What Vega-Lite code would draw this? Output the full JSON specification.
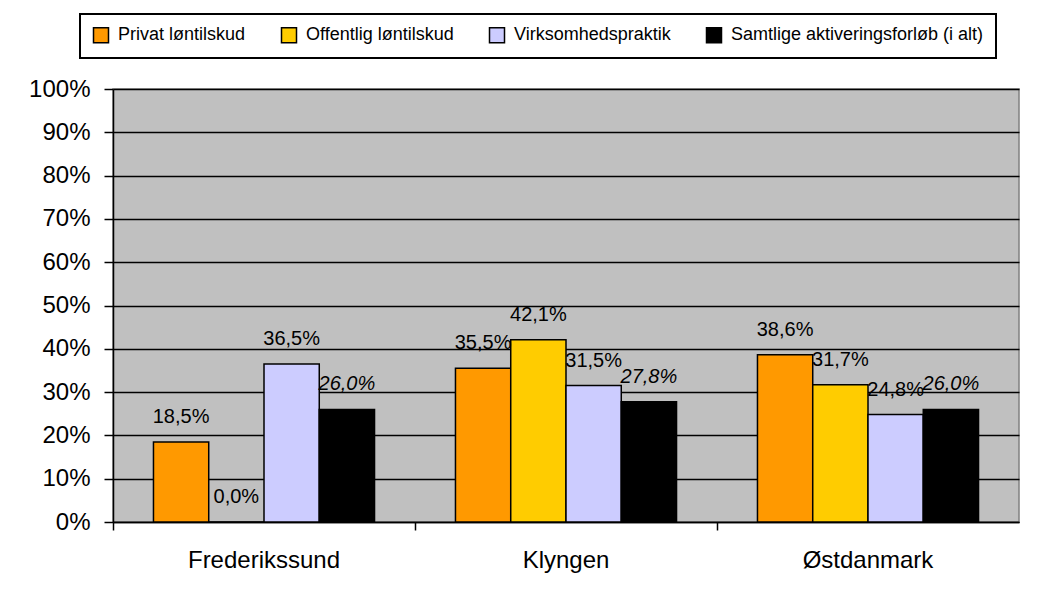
{
  "$schema": "https://vega.github.io/schema/vega-lite/v6.json",
  "width": 906,
  "height": 433,
  "autosize": {"type": "none"},
  "padding": {"left": 113, "top": 89, "right": 33, "bottom": 79},
  "background": "white",
  "data": {
    "values": [
      {"omraade": "Frederikssund", "serie": "Privat løntilskud", "andel": 0.185},
      {"omraade": "Frederikssund", "serie": "Offentlig løntilskud", "andel": 0.0},
      {"omraade": "Frederikssund", "serie": "Virksomhedspraktik", "andel": 0.365},
      {"omraade": "Frederikssund", "serie": "Samtlige aktiveringsforløb (i alt)", "andel": 0.26},
      {"omraade": "Klyngen", "serie": "Privat løntilskud", "andel": 0.355},
      {"omraade": "Klyngen", "serie": "Offentlig løntilskud", "andel": 0.421},
      {"omraade": "Klyngen", "serie": "Virksomhedspraktik", "andel": 0.315},
      {"omraade": "Klyngen", "serie": "Samtlige aktiveringsforløb (i alt)", "andel": 0.278},
      {"omraade": "Østdanmark", "serie": "Privat løntilskud", "andel": 0.386},
      {"omraade": "Østdanmark", "serie": "Offentlig løntilskud", "andel": 0.317},
      {"omraade": "Østdanmark", "serie": "Virksomhedspraktik", "andel": 0.248},
      {"omraade": "Østdanmark", "serie": "Samtlige aktiveringsforløb (i alt)", "andel": 0.26}
    ]
  },
  "encoding": {
    "x": {
      "field": "omraade",
      "type": "nominal",
      "sort": ["Frederikssund", "Klyngen", "Østdanmark"],
      "scale": {"paddingInner": 0.268, "paddingOuter": 0.134},
      "axis": {
        "title": null,
        "labelAngle": 0,
        "bandPosition": -0.181,
        "labelFontSize": 24,
        "labelFont": "Liberation Sans",
        "labelColor": "black",
        "labelPadding": 18,
        "tickSize": 8,
        "tickColor": "black",
        "tickWidth": 1.5,
        "domainColor": "black",
        "domainWidth": 1.5,
        "grid": false
      }
    },
    "xOffset": {
      "field": "serie",
      "type": "nominal",
      "sort": ["Privat løntilskud", "Offentlig løntilskud", "Virksomhedspraktik", "Samtlige aktiveringsforløb (i alt)"],
      "scale": {"paddingInner": 0, "paddingOuter": 0}
    },
    "y": {
      "field": "andel",
      "type": "quantitative",
      "scale": {"domain": [0, 1], "nice": false},
      "axis": {
        "title": null,
        "format": ".0%",
        "values": [0, 0.1, 0.2, 0.3, 0.4, 0.5, 0.6, 0.7, 0.8, 0.9, 1],
        "labelFontSize": 24,
        "labelFont": "Liberation Sans",
        "labelColor": "black",
        "labelPadding": 14,
        "tickSize": 9,
        "tickColor": "black",
        "tickWidth": 1.5,
        "domainColor": "black",
        "domainWidth": 1.5,
        "grid": true,
        "gridColor": "black",
        "gridWidth": 1.5,
        "gridOpacity": 1
      }
    }
  },
  "layer": [
    {
      "mark": {"type": "bar", "stroke": "black", "strokeWidth": 1.5},
      "encoding": {
        "color": {
          "field": "serie",
          "type": "nominal",
          "sort": ["Privat løntilskud", "Offentlig løntilskud", "Virksomhedspraktik", "Samtlige aktiveringsforløb (i alt)"],
          "scale": {
            "domain": ["Privat løntilskud", "Offentlig løntilskud", "Virksomhedspraktik", "Samtlige aktiveringsforløb (i alt)"],
            "range": ["#FF9900", "#FFCC00", "#CCCCFF", "#000000"]
          },
          "legend": {
            "title": null,
            "orient": "none",
            "direction": "horizontal",
            "legendX": -33,
            "legendY": -75,
            "symbolType": "square",
            "symbolSize": 225,
            "symbolStrokeColor": "black",
            "symbolStrokeWidth": 1.5,
            "symbolOpacity": 1,
            "labelFont": "Liberation Sans",
            "labelFontSize": 18,
            "labelColor": "black",
            "labelOffset": 8,
            "labelLimit": 400,
            "columnPadding": 32,
            "padding": 12,
            "strokeColor": "black",
            "fillColor": "white",
            "encode": {"legend": {"update": {"strokeWidth": {"value": 2}}}}
          }
        }
      }
    },
    {
      "transform": [{"filter": "datum.serie !== 'Samtlige aktiveringsforløb (i alt)'"}],
      "mark": {"type": "text", "font": "Liberation Sans", "fontSize": 20, "color": "black", "baseline": "middle", "dy": -25},
      "encoding": {
        "text": {"field": "andel", "type": "quantitative", "format": ".1%"}
      }
    },
    {
      "transform": [{"filter": "datum.serie === 'Samtlige aktiveringsforløb (i alt)'"}],
      "mark": {"type": "text", "font": "Liberation Sans", "fontSize": 20, "fontStyle": "italic", "color": "black", "baseline": "middle", "dy": -25},
      "encoding": {
        "text": {"field": "andel", "type": "quantitative", "format": ".1%"}
      }
    }
  ],
  "config": {
    "locale": {
      "number": {"decimal": ",", "thousands": ".", "grouping": [3], "currency": ["", " kr."]}
    },
    "view": {"fill": "#C0C0C0", "stroke": "#808080", "strokeWidth": 1.5}
  }
}
